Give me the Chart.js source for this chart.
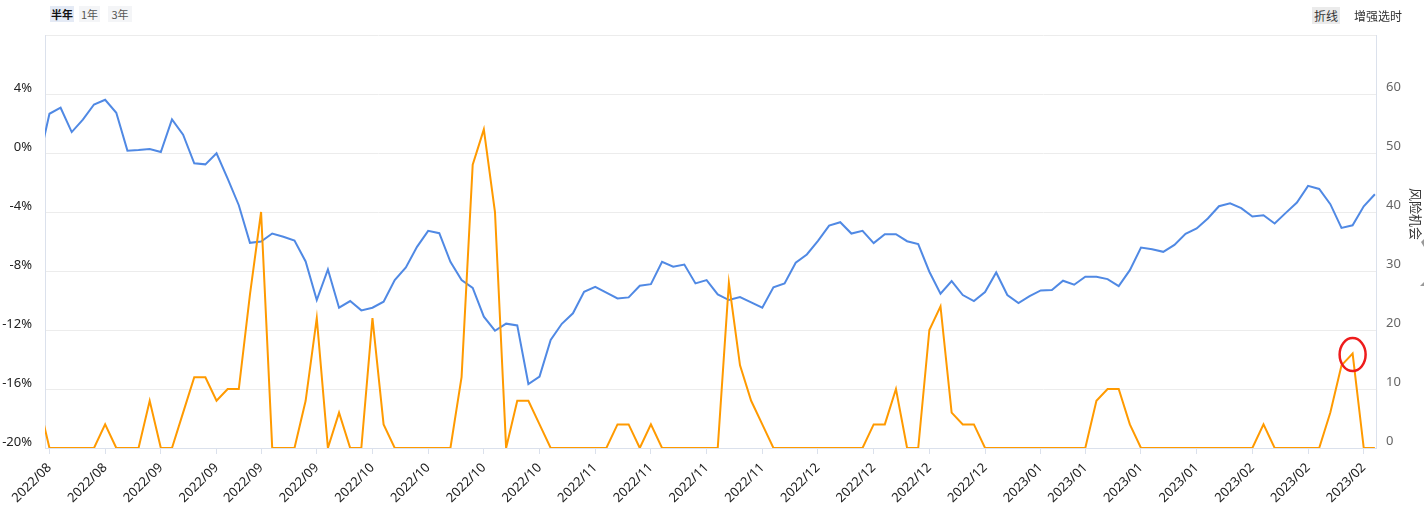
<!DOCTYPE html>
<html lang="zh-CN">
<head>
<meta charset="UTF-8">
<title>风险机会</title>
<script src="https://cdn.jsdelivr.net/npm/chart.js"></script>
<style>
    body {
        margin: 0;
        background: #fff;
        font-family: 'Noto Sans CJK SC', 'Noto Sans', sans-serif;
    }

    #wrap {
        position: relative;
        width: 1424px;
        height: 520px;
    }

    .btn {
        position: absolute;
        top: 6px;
        height: 16px;
        line-height: 16px;
        font-size: 11px;
        color: #555;
        background: #f4f5f7;
        text-align: center;
    }

    .btn.on {
        background: #e4eaf5;
        color: #111;
        font-weight: bold;
    }

    .tool {
        position: absolute;
        top: 7px;
        height: 17px;
        line-height: 17px;
        font-size: 12px;
        color: #333;
        text-align: center;
    }

    canvas {
        position: absolute;
        left: 0;
        top: 0;
    }
</style>
</head>
<body>

<div id="wrap">
    <canvas id="riskChart" width="1424" height="520"></canvas>
    <div class="btn on" style="left:50px;width:24px;">半年</div>
    <div class="btn" style="left:79px;width:21px;">1年</div>
    <div class="btn" style="left:108px;width:24px;">3年</div>
    <div class="tool" style="left:1312px;width:28px;background:#ebebeb;">折线</div>
    <div class="tool" style="left:1352px;width:52px;">增强选时</div>
</div>

<script>
    // week-start labels on the x axis (index into the series)
    const tickIdx = [1, 6, 11, 16, 20, 25, 30, 35, 40, 45, 50, 55, 60, 65, 70, 75, 80, 85, 90, 94, 99, 104, 109, 114, 119];
    const tickLabels = ['2022/08', '2022/08', '2022/09', '2022/09', '2022/09', '2022/09', '2022/10', '2022/10', '2022/10', '2022/10',
        '2022/11', '2022/11', '2022/11', '2022/11', '2022/12', '2022/12', '2022/12', '2022/12',
        '2023/01', '2023/01', '2023/01', '2023/01', '2023/02', '2023/02', '2023/02'];

    // return, % (left axis)
    const pctValues = [
        -0.70, 2.66, 3.07, 1.42, 2.26, 3.29, 3.61, 2.73, 0.16, 0.20,
        0.27, 0.07, 2.28, 1.24, -0.70, -0.77, -0.02, -1.74, -3.54, -6.09,
        -6.00, -5.46, -5.68, -5.93, -7.35, -9.97, -7.90, -10.49, -10.04, -10.67,
        -10.49, -10.08, -8.62, -7.76, -6.36, -5.28, -5.44, -7.38, -8.62, -9.14,
        -11.10, -12.05, -11.57, -11.69, -15.66, -15.16, -12.68, -11.58, -10.87, -9.41,
        -9.07, -9.47, -9.86, -9.79, -9.00, -8.89, -7.38, -7.71, -7.56, -8.84,
        -8.62, -9.59, -9.97, -9.77, -10.13, -10.49, -9.11, -8.84, -7.44, -6.88,
        -5.96, -4.92, -4.69, -5.46, -5.28, -6.11, -5.50, -5.50, -5.98, -6.18,
        -8.05, -9.54, -8.68, -9.63, -10.04, -9.43, -8.10, -9.63, -10.17, -9.70,
        -9.32, -9.29, -8.66, -8.93, -8.39, -8.39, -8.55, -9.02, -7.94, -6.41,
        -6.52, -6.70, -6.23, -5.48, -5.12, -4.44, -3.61, -3.41, -3.74, -4.31,
        -4.22, -4.78, -4.06, -3.36, -2.23, -2.44, -3.47, -5.08, -4.90, -3.61,
        -2.80
    ];

    // 风险机会 (right axis)
    const riskValues = [
        8, 0, 0, 0, 0, 0, 4, 0, 0, 0,
        8, 0, 0, 6, 12, 12, 8, 10, 10, 26,
        40, 0, 0, 0, 8, 22, 0, 6, 0, 0,
        22, 4, 0, 0, 0, 0, 0, 0, 12, 48,
        54, 40, 0, 8, 8, 4, 0, 0, 0, 0,
        0, 0, 4, 4, 0, 4, 0, 0, 0, 0,
        0, 0, 28, 14, 8, 4, 0, 0, 0, 0,
        0, 0, 0, 0, 0, 4, 4, 10, 0, 0,
        20, 24, 6, 4, 4, 0, 0, 0, 0, 0,
        0, 0, 0, 0, 0, 8, 10, 10, 4, 0,
        0, 0, 0, 0, 0, 0, 0, 0, 0, 0,
        4, 0, 0, 0, 0, 0, 6, 14, 16, 0,
        0
    ];

    // point circled in red
    const markIdx = 118;

    const tickFont = { family: "'Noto Sans', sans-serif", size: 13 };

    // red ring round the marked point, axis name and the two small arrows on the right edge
    const extras = {
        id: 'extras',
        afterDatasetsDraw(chart) {
            const ctx = chart.ctx;
            const x = chart.scales.x.getPixelForValue(markIdx);
            const y = chart.scales.y1.getPixelForValue(riskValues[markIdx]);
            ctx.save();
            ctx.strokeStyle = '#ee1c1c';
            ctx.lineWidth = 2.5;
            ctx.beginPath();
            ctx.ellipse(x, y + 1, 13, 16.5, 0, 0, Math.PI * 2);
            ctx.stroke();
            ctx.restore();
        },
        afterDraw(chart) {
            const ctx = chart.ctx;
            ctx.save();
            ctx.translate(1410, 214);
            ctx.rotate(Math.PI / 2);
            ctx.fillStyle = '#333';
            ctx.font = "13px 'Noto Sans CJK SC'";
            ctx.textAlign = 'center';
            ctx.textBaseline = 'middle';
            ctx.fillText('风险机会', 0, -6);
            ctx.restore();

            ctx.save();
            ctx.fillStyle = '#999';
            ctx.beginPath();
            ctx.moveTo(1421, 242);
            ctx.lineTo(1424, 239);
            ctx.lineTo(1424, 247);
            ctx.closePath();
            ctx.fill();
            ctx.beginPath();
            ctx.moveTo(1420, 286);
            ctx.lineTo(1424, 282);
            ctx.lineTo(1424, 286);
            ctx.closePath();
            ctx.fill();
            ctx.restore();
        }
    };

    new Chart(document.getElementById('riskChart').getContext('2d'), {
        type: 'line',
        data: {
            datasets: [{
                label: '风险机会',
                data: riskValues.map((v, i) => ({ x: i, y: v })),
                yAxisID: 'y1',
                borderColor: '#ff9a00',
                borderWidth: 2,
                pointRadius: 0,
                tension: 0,
                order: 0
            }, {
                label: '收益',
                data: pctValues.map((v, i) => ({ x: i, y: v })),
                yAxisID: 'y',
                borderColor: '#5089e4',
                borderWidth: 2,
                pointRadius: 0,
                tension: 0,
                order: 1
            }]
        },
        options: {
            responsive: false,
            animation: false,
            layout: { padding: { top: 35, left: 0, right: 0, bottom: 0 } },
            plugins: {
                legend: { display: false },
                tooltip: { enabled: false }
            },
            scales: {
                x: {
                    type: 'linear',
                    min: 0.6,
                    max: 120.1,
                    afterBuildTicks: s => { s.ticks = tickIdx.map(v => ({ value: v })); },
                    afterFit: s => { s.height = 72; },
                    ticks: {
                        autoSkip: false,
                        minRotation: 45,
                        maxRotation: 45,
                        padding: 6,
                        color: '#222',
                        font: tickFont,
                        callback: (v, i) => tickLabels[i]
                    },
                    grid: { drawOnChartArea: false, drawTicks: true, tickLength: 6, color: '#dbe1ec' },
                    border: { color: '#dbe1ec' }
                },
                y: {
                    position: 'left',
                    min: -20,
                    max: 8,
                    afterFit: s => { s.width = 45; },
                    ticks: {
                        stepSize: 4,
                        padding: 13,
                        labelOffset: -6,
                        color: '#222',
                        font: tickFont,
                        callback: v => v === 8 ? '' : v + '%'
                    },
                    grid: { color: '#ececec', drawTicks: false },
                    border: { color: '#dbe1ec' }
                },
                y1: {
                    position: 'right',
                    min: 0,
                    max: 70,
                    afterFit: s => { s.width = 48; },
                    ticks: {
                        stepSize: 10,
                        padding: 10,
                        labelOffset: -7,
                        color: '#666',
                        font: tickFont,
                        callback: v => v === 70 ? '' : v
                    },
                    grid: { drawOnChartArea: false, drawTicks: false },
                    border: { color: '#dbe1ec' }
                }
            }
        },
        plugins: [extras]
    });
</script>

</body>
</html>
